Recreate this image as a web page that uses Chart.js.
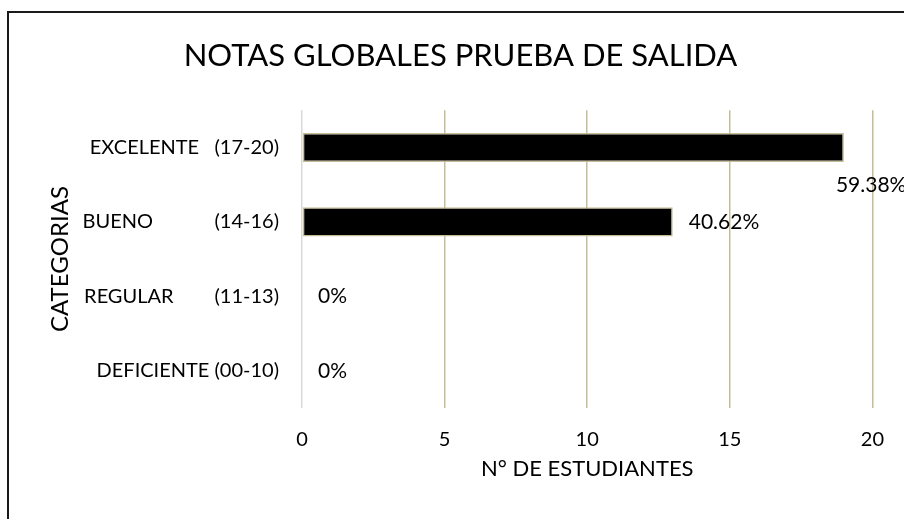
<!DOCTYPE html>
<html>
<head>
<meta charset="utf-8">
<script src="https://cdn.jsdelivr.net/npm/chart.js@4"></script>
<style>
  html, body { margin: 0; padding: 0; background: #fff; overflow: hidden; }
  #wrap { position: relative; width: 904px; height: 519px; }
  #marco { position: absolute; left: 7px; top: 11px; width: 1000px; height: 1000px; border: 2px solid #1a1a1a; pointer-events: none; }
</style>
</head>
<body>
<div id="wrap">
  <canvas id="grafico" width="904" height="519"></canvas>
  <div id="marco"></div>
</div>
<script>
const categorias = [
  "EXCELENTE   (17-20)",
  "BUENO            (14-16)",
  "REGULAR        (11-13)",
  "DEFICIENTE (00-10)"
];
const estudiantes = [19, 13, 0, 0];
const porcentajes = ["59.38%", "40.62%", "0%", "0%"];
const ticksX = [0, 5, 10, 15, 20];

const fuente = "Lato, 'Open Sans', sans-serif";
const colorTexto = "#000";
const colorGrid = "#c4bd97";

// etiquetas de porcentaje al final de cada barra
const etiquetas = {
  id: "etiquetas",
  afterDatasetsDraw(chart) {
    const ctx = chart.ctx;
    const meta = chart.getDatasetMeta(0);
    ctx.save();
    ctx.font = "21px " + fuente;
    ctx.fillStyle = colorTexto;
    ctx.textBaseline = "middle";
    ctx.textAlign = "left";
    meta.data.forEach((bar, i) => {
      const txt = porcentajes[i];
      const w = ctx.measureText(txt).width;
      let x = bar.x + 16;
      let y = bar.y;
      if (x + w > chart.width) {
        // no cabe: se baja debajo del final de la barra
        x = bar.x - 8;
        y = bar.y + 38;
      }
      ctx.fillText(txt, x, y);
    });
    ctx.restore();
  }
};

new Chart(document.getElementById("grafico").getContext("2d"), {
  type: "bar",
  data: {
    labels: categorias,
    datasets: [{
      data: estudiantes,
      backgroundColor: "#000",
      borderColor: colorGrid,
      borderWidth: 1.5,
      borderSkipped: false,
      barPercentage: 0.39,
      categoryPercentage: 1
    }]
  },
  options: {
    indexAxis: "y",
    responsive: false,
    animation: false,
    layout: { padding: { left: 46, right: 29, top: 0, bottom: 37 } },
    plugins: {
      legend: { display: false },
      tooltip: { enabled: false },
      title: {
        display: true,
        text: "NOTAS GLOBALES PRUEBA DE SALIDA",
        color: colorTexto,
        font: { family: fuente, size: 31, weight: "normal" },
        padding: { top: 37, bottom: 36 }
      }
    },
    scales: {
      x: {
        min: 0,
        max: 20,
        afterBuildTicks: s => { s.ticks = ticksX.map(v => ({ value: v })); },
        afterFit: s => { s.height = 74; },
        grid: {
          color: c => (c.tick && c.tick.value === 0 ? "#d9d9d9" : colorGrid),
          lineWidth: 1.5,
          drawTicks: false
        },
        border: { display: false },
        ticks: {
          color: colorTexto,
          padding: 20,
          font: { family: fuente, size: 20 }
        },
        title: {
          display: true,
          text: "N° DE ESTUDIANTES",
          color: colorTexto,
          font: { family: fuente, size: 22 },
          padding: { top: 4, bottom: 0 }
        }
      },
      y: {
        afterFit: s => { s.width = 256; },
        grid: { display: false, drawTicks: false },
        border: { display: false },
        ticks: {
          color: colorTexto,
          padding: 23,
          font: { family: fuente, size: 20 }
        },
        title: {
          display: true,
          text: "CATEGORIAS",
          color: colorTexto,
          font: { family: fuente, size: 24 },
          padding: { top: 0, bottom: 4 }
        }
      }
    }
  },
  plugins: [etiquetas]
});
</script>
</body>
</html>
